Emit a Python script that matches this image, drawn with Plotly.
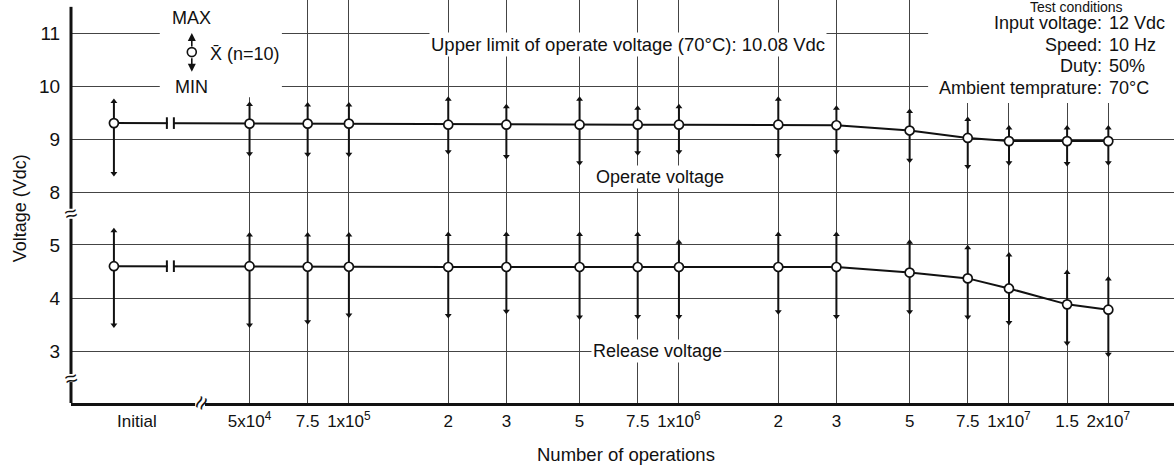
import numpy as np
import plotly.graph_objects as go

# ---------------- data ----------------
ops = [5e4, 7.5e4, 1e5, 2e5, 3e5, 5e5, 7.5e5, 1e6, 2e6, 3e6, 5e6, 7.5e6, 1e7, 1.5e7, 2e7]
tick_labels = ["5x10<sup>4</sup>", "7.5", "1x10<sup>5</sup>", "2", "3", "5", "7.5",
               "1x10<sup>6</sup>", "2", "3", "5", "7.5", "1x10<sup>7</sup>", "1.5", "2x10<sup>7</sup>"]
initial_label = "Initial"
INITIAL_POS = 4.288      # horizontal slot used for the "Initial" column (log10 scale)

# first value = Initial, then one per entry of ops
operate_mean = [9.30, 9.29, 9.29, 9.29, 9.27, 9.27, 9.27, 9.27, 9.27, 9.27, 9.26, 9.16, 9.02, 8.96, 8.96, 8.96]
operate_max = [9.71, 9.65, 9.64, 9.64, 9.75, 9.61, 9.75, 9.58, 9.61, 9.75, 9.58, 9.52, 9.37, 9.21, 9.21, 9.21]
operate_min = [8.35, 8.72, 8.71, 8.71, 8.76, 8.67, 8.55, 8.74, 8.76, 8.69, 8.76, 8.60, 8.48, 8.55, 8.54, 8.55]

release_mean = [4.60, 4.60, 4.59, 4.59, 4.585, 4.585, 4.585, 4.585, 4.585, 4.585, 4.585, 4.48, 4.37, 4.18, 3.88, 3.78]
release_max = [5.27, 5.19, 5.19, 5.19, 5.20, 5.20, 5.20, 5.20, 5.05, 5.20, 5.20, 5.05, 4.95, 4.81, 4.48, 4.36]
release_min = [3.49, 3.49, 3.55, 3.68, 3.67, 3.75, 3.64, 3.65, 3.65, 3.74, 3.65, 3.74, 3.64, 3.54, 3.15, 2.94]

upper_ticks = [8, 9, 10, 11]
lower_ticks = [3, 4, 5]

conditions = [("Input voltage:", "12 Vdc"), ("Speed:", "10 Hz"),
              ("Duty:", "50%"), ("Ambient temprature:", "70°C")]

# ---------------- figure ----------------
FONT = "Liberation Sans, Arial, sans-serif"
INK = "#111111"
GRID = "#444444"
FS = 18

xpos = [INITIAL_POS] + list(np.log10(ops))


def series(mean, vmax, vmin, xa, ya):
    mean = np.array(mean); vmax = np.array(vmax); vmin = np.array(vmin)
    tr = []
    tr.append(go.Scatter(x=xpos, y=mean, xaxis=xa, yaxis=ya, mode="lines",
                         line=dict(color=INK, width=2), hoverinfo="skip",
                         error_y=dict(type="data", symmetric=False, array=vmax - mean,
                                      arrayminus=mean - vmin, color=INK, thickness=2, width=0)))
    tr.append(go.Scatter(x=xpos, y=vmax, xaxis=xa, yaxis=ya, mode="markers",
                         marker=dict(symbol="triangle-up", size=6, color=INK)))
    tr.append(go.Scatter(x=xpos, y=vmin, xaxis=xa, yaxis=ya, mode="markers",
                         marker=dict(symbol="triangle-down", size=6, color=INK)))
    tr.append(go.Scatter(x=xpos, y=mean, xaxis=xa, yaxis=ya, mode="markers",
                         marker=dict(symbol="circle", size=9, color="white",
                                     line=dict(color=INK, width=1.7))))
    return tr


fig = go.Figure()
for t in series(operate_mean, operate_max, operate_min, "x2", "y2"):
    fig.add_trace(t)
for t in series(release_mean, release_max, release_min, "x", "y"):
    fig.add_trace(t)

XR = [4.158, 7.5]
SPLIT = 0.4715

fig.update_layout(
    width=1174, height=469,
    margin=dict(l=71, r=0, t=0, b=66),
    paper_bgcolor="white", plot_bgcolor="white",
    showlegend=False,
    font=dict(family=FONT, color=INK, size=FS),
    xaxis=dict(domain=[0, 1], range=XR, anchor="y",
               tickvals=list(np.log10(ops)), ticktext=tick_labels,
               showgrid=True, gridcolor=GRID, gridwidth=1,
               showline=True, linecolor=INK, linewidth=3,
               ticks="outside", ticklen=1, tickcolor="rgba(0,0,0,0)",
               tickfont=dict(size=17), zeroline=False),
    xaxis2=dict(domain=[0, 1], range=XR, anchor="y2", matches="x",
                tickvals=list(np.log10(ops)), showticklabels=False,
                showgrid=True, gridcolor=GRID, gridwidth=1,
                showline=False, ticks="", zeroline=False),
    yaxis=dict(domain=[0, SPLIT], range=[2.019, 5.604],
               tickvals=lower_ticks, ticktext=[str(v) for v in lower_ticks],
               showgrid=True, gridcolor=GRID, gridwidth=1.4,
               showline=False, ticks="outside", ticklen=6, tickcolor="rgba(0,0,0,0)",
               tickfont=dict(size=19), zeroline=False),
    yaxis2=dict(domain=[SPLIT, 1], range=[7.604, 11.623], anchor="x2",
                tickvals=upper_ticks, ticktext=[str(v) for v in upper_ticks],
                showgrid=True, gridcolor=GRID, gridwidth=1.4,
                showline=False, ticks="outside", ticklen=6, tickcolor="rgba(0,0,0,0)",
                tickfont=dict(size=19), zeroline=False),
)

shapes = []
# blank areas behind the legend key and the test-condition block
shapes.append(dict(type="rect", xref="x2", yref="y2", x0=4.427, x1=4.797, y0=9.79, y1=11.7,
                   fillcolor="white", line=dict(width=0), layer="between"))
shapes.append(dict(type="rect", xref="x2", yref="y2", x0=6.755, x1=7.6, y0=9.68, y1=11.7,
                   fillcolor="white", line=dict(width=0), layer="between"))

# y axis line with breaks
for y0, y1 in [(0, 0.052), (0.072, 0.457), (0.482, 0.983)]:
    shapes.append(dict(type="line", xref="paper", yref="paper", x0=0, x1=0, y0=y0, y1=y1,
                       line=dict(color=INK, width=3)))
# x axis break gap
shapes.append(dict(type="rect", xref="x", yref="paper", x0=4.534, x1=4.564, y0=-0.01, y1=0.01,
                   fillcolor="white", line=dict(width=0), layer="above"))

# break marks on the line between Initial and 5x10^4
for ya, yv in [("y2", operate_mean[0]), ("y", release_mean[0])]:
    xa = "x" if ya == "y" else "x2"
    shapes.append(dict(type="rect", xref=xa, yref=ya,
                       x0=4.451, x1=4.467, y0=yv - 0.05, y1=yv + 0.05,
                       fillcolor="white", line=dict(width=0), layer="above"))
    for xb in (4.4485, 4.4697):
        shapes.append(dict(type="line", xref=xa, yref=ya,
                           x0=xb, x1=xb, y0=yv - 0.11, y1=yv + 0.11,
                           line=dict(color=INK, width=2), layer="above"))

# legend key circle
shapes.append(dict(type="circle", xref="x2", yref="y2", x0=4.524 - 0.0136, x1=4.524 + 0.0136,
                   y0=10.64 - 0.085, y1=10.64 + 0.085, fillcolor="white",
                   line=dict(color=INK, width=1.6), layer="above"))
fig.update_layout(shapes=shapes)

ann = []
# legend key
ann.append(dict(x=4.524, y=11.0, xref="x2", yref="y2", ax=0, ay=15, showarrow=True,
                arrowhead=2, arrowsize=1, arrowwidth=1.6, arrowcolor=INK, text=""))
ann.append(dict(x=4.524, y=10.27, xref="x2", yref="y2", ax=0, ay=-15, showarrow=True,
                arrowhead=2, arrowsize=1, arrowwidth=1.6, arrowcolor=INK, text=""))
ann.append(dict(x=4.524, y=11.283, xref="x2", yref="y2", text="MAX", showarrow=False,
                font=dict(size=FS)))
ann.append(dict(x=4.524, y=9.98, xref="x2", yref="y2", text="MIN", showarrow=False,
                font=dict(size=FS)))
ann.append(dict(x=4.573, y=10.60, xref="x2", yref="y2", text="X\u0304 (n=10)", showarrow=False,
                xanchor="left", font=dict(size=FS)))

# labels in the plot
ann.append(dict(x=5.845, y=10.79, xref="x2", yref="y2",
                text="Upper limit of operate voltage (70°C): 10.08 Vdc", showarrow=False,
                font=dict(size=18.5), bgcolor="white", borderpad=1))
ann.append(dict(x=5.942, y=8.283, xref="x2", yref="y2", text="Operate voltage", showarrow=False,
                font=dict(size=FS), bgcolor="white", borderpad=1))
ann.append(dict(x=5.936, y=3.0, xref="x", yref="y", text="Release voltage", showarrow=False,
                font=dict(size=FS), bgcolor="white", borderpad=1))

# test conditions block
ann.append(dict(x=7.206, y=11.49, xref="x2", yref="y2", text="Test conditions",
                showarrow=False, yanchor="middle", font=dict(size=14)))
for i, (k, v) in enumerate(conditions):
    yy = 11.18 - i * 0.403
    ann.append(dict(x=7.288, y=yy, xref="x2", yref="y2", text=k, showarrow=False,
                    xanchor="right", yanchor="middle", font=dict(size=FS)))
    ann.append(dict(x=7.297, y=yy, xref="x2", yref="y2", text=v, showarrow=False,
                    xanchor="left", yanchor="middle", font=dict(size=FS)))

# axis text
ann.append(dict(x=np.log10(2.28e4), y=-0.047, xref="x", yref="paper", text=initial_label,
                showarrow=False, xanchor="center", yanchor="middle", font=dict(size=17)))
ann.append(dict(x=0.503, y=-0.129, xref="paper", yref="paper", text="Number of operations",
                showarrow=False, xanchor="center", yanchor="middle", font=dict(size=18.5)))
ann.append(dict(x=-0.046, y=0.484, xref="paper", yref="paper", text="Voltage (Vdc)",
                showarrow=False, textangle=-90, xanchor="center", yanchor="middle",
                font=dict(size=FS)))

# axis break glyphs
for yb in (0.469, 0.062):
    ann.append(dict(x=0, y=yb, xref="paper", yref="paper", text="≈", showarrow=False,
                    xanchor="center", yanchor="middle", textangle=-15,
                    font=dict(size=22, color=INK)))
ann.append(dict(x=4.549, y=0, xref="x", yref="paper", text="≈", showarrow=False,
                xanchor="center", yanchor="middle", textangle=-65,
                font=dict(size=24, color=INK)))

fig.update_layout(annotations=ann)
fig.write_html("out.html", config={"displayModeBar": False},
               post_script="document.body.style.margin='0';")
